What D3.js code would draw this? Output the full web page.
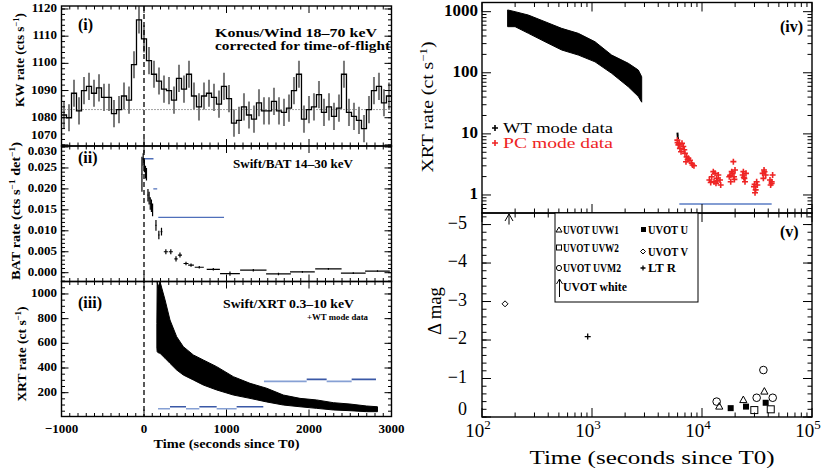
<!DOCTYPE html>
<html>
<head>
<meta charset="utf-8">
<script src="https://cdn.jsdelivr.net/npm/d3@7"></script>
<style>
  body { margin: 0; background: #fff; }
  svg { display: block; }
  text { font-family: "Liberation Serif", "DejaVu Serif", serif; fill: #000; }
</style>
</head>
<body>
<svg id="chart" width="829" height="471"></svg>
<script>
// ---- values ----

// (i) Konus/Wind light curve, fixed-width bins
const kwStart = -1000;
const kwBinWidth = 60.6;
const kwRate = [
  1081, 1080, 1089, 1082.5, 1090, 1091.5, 1089, 1091, 1087.5, 1087.5,
  1081.5, 1083, 1088, 1086.5, 1099.5, 1116, 1109, 1101, 1096, 1093.5,
  1090.5, 1090, 1086.5, 1094.5, 1090.5, 1096, 1088, 1084, 1088, 1089,
  1087.5, 1085, 1091.5, 1087, 1078, 1079, 1084, 1081, 1079.5, 1085.5,
  1082.5, 1082.5, 1086, 1082.5, 1082, 1083.5, 1090, 1096, 1079.5, 1083,
  1084, 1088.5, 1082, 1084, 1080.5, 1083.5, 1096, 1082, 1080.5, 1079,
  1076, 1083, 1090, 1091.5, 1085.5, 1088
];
const kwErr = 5;
const kwBackground = 1083;

// (ii) Swift/BAT
const batTime    = [-25, -10, 5, 18, 30, 48, 62, 76, 90, 104, 145, 180, 212, 265, 325, 388, 436, 509, 570, 670, 840, 1042, 1325, 1630, 1920, 2235, 2537, 2830];
const batTimeErr = [4, 5, 5, 5, 5, 5, 5, 5, 5, 5, 6, 8, 10, 25, 25, 20, 25, 30, 35, 55, 80, 120, 160, 150, 150, 160, 150, 150];
const batRate    = [0.0235, 0.027, 0.0255, 0.024, 0.0235, 0.0185, 0.0178, 0.0165, 0.016, 0.015, 0.0113, 0.009, 0.0098, 0.005, 0.005, 0.0033, 0.0042, 0.0022, 0.0018, 0.0013, 0.0008, -0.0002, 0.0006, -0.0003, 0.0002, 0.0009, -0.0001, 0.0004];
const batRateErr = [0.0042, 0.0015, 0.0015, 0.0015, 0.0015, 0.0015, 0.0015, 0.0015, 0.0015, 0.0015, 0.0013, 0.001, 0.0009, 0.0006, 0.0006, 0.0006, 0.0006, 0.0004, 0.0004, 0.0003, 0.0003, 0.0005, 0.0003, 0.0003, 0.0002, 0.0002, 0.0002, 0.0002];
const batBarStart = [-20, 113, 173];
const batBarEnd   = [115, 160, 970];
const batBarLevel = [0.0272, 0.02, 0.0132];

// (iii) Swift/XRT WT, linear: band envelope
const xrtTime = [156, 160, 168, 194, 255, 315, 396, 477, 598, 719, 881, 1083, 1285, 1487, 1689, 1891, 2093, 2295, 2497, 2699, 2830];
const xrtHigh = [760, 1100, 1050, 1100, 952, 789, 654, 573, 506, 465, 411, 330, 276, 236, 181, 154, 141, 119, 108, 92, 86];
const xrtLow  = [560, 532, 525, 519, 479, 438, 384, 343, 303, 262, 222, 181, 154, 125, 100, 86, 73, 60, 54, 46, 46];
const xrtBarStart = [170, 315, 509, 671, 881, 1123, 1454, 1972, 2214, 2517];
const xrtBarEnd   = [315, 509, 671, 881, 1123, 1446, 1972, 2214, 2517, 2812];
const xrtBarLevel = [70, 86, 70, 86, 70, 86, 292, 308, 292, 308];

// (iv) XRT, log-log
const wtTime = [171, 200, 264, 374, 530, 751, 1065, 1509, 2138, 2636, 2830];
const wtHigh = [1067, 1000, 880, 686, 533, 442, 322, 195, 143, 111, 86];
const wtLow  = [568, 568, 442, 322, 236, 195, 151, 98, 59, 41, 33];
const wtLateTime = [5980, 6020, 6060];
const wtLateRate = [10.5, 9, 8.2];
const pcTime = [
  5970, 6100, 6300, 6580, 6450, 6760, 7000, 7250, 7150, 7520, 7770, 8050, 8450, 6000, 6200, 6900, 7400, 8200,
  11670, 12250, 12670, 12860, 13130, 13400, 13590, 14070, 14580, 14790, 12000, 13800,
  17700, 18620, 19280, 19010, 18240, 19540, 19950, 18000, 19700,
  23440, 24270, 25120, 24600, 23770, 24000,
  29700, 30760, 31400, 30340, 31850, 30100,
  35600, 36640, 37930, 36140, 37000,
  41500, 42960, 43850, 42070, 43000
];
const pcRate = [
  7.9, 6.6, 5.8, 7.0, 5.1, 6.2, 4.8, 4.2, 3.5, 4.0, 3.7, 3.3, 3.0, 7.2, 6.9, 5.5, 3.8, 3.1,
  1.76, 1.99, 2.41, 1.65, 2.26, 1.55, 1.87, 2.12, 1.76, 1.46, 1.6, 1.7,
  1.99, 2.41, 3.51, 2.26, 1.65, 1.99, 2.56, 2.1, 1.8,
  2.12, 1.87, 2.26, 1.65, 2.41, 1.95,
  1.37, 1.21, 1.65, 1.09, 1.46, 1.5,
  2.26, 2.56, 2.12, 1.87, 2.4,
  1.76, 1.55, 2.12, 1.46, 1.65
];
const pcBarStart = [6220];
const pcBarEnd   = [43000];
const pcBarLevel = [0.71];

// (v) UVOT / LT magnitude changes
const uvw1Time = [14350, 23750, 36900],        uvw1Mag = [-0.27, -0.44, -0.66];
const uvw2Time = [29900, 42170],               uvw2Mag = [-0.18, -0.2];
const uvm2Time = [13590, 31400, 36150, 43950], uvm2Mag = [-0.4, -0.5, -1.22, -0.5];
const uTime    = [18230, 25120, 37930],        uMag    = [-0.23, -0.27, -0.37];
const vTime    = [162],                        vMag    = [-2.94];
const ltRTime  = [914],                        ltRMag  = [-2.09];
const whiteTime = [176],                       whiteMag = [-5.0];

// tick values
const leftXTicks = [-1000, 0, 1000, 2000, 3000];
const kwTicks = [1070, 1080, 1090, 1100, 1110, 1120];
const batTicks = [0, 0.005, 0.01, 0.015, 0.02, 0.025, 0.03];
const xrtTicks = [200, 400, 600, 800, 1000];
const rightXTicks = [100, 1000, 10000, 100000];
const wtTicks = [1, 10, 100, 1000];
const magTicks = [0, -1, -2, -3, -4, -5];

// ---- scales ----
const xL = d3.scaleLinear([-1000, 3000], [61.5, 391.5]);
const yKW = d3.scaleLinear([1069.6, 1121.1], [146, 6]);
const yBAT = d3.scaleLinear([-0.0021, 0.03024], [281.5, 146]);
const yXRT = d3.scaleLinear([7, 1101], [416.5, 281.5]);

const xR = d3.scaleLog([100, 1e5], [482, 812]);
const yWT = d3.scaleLog([0.507, 1413], [213, 2.5]);
const yMag = d3.scaleLinear([0, -5.3], [417, 213]);

const svg = d3.select('#chart');
const blueLight = '#86a0d4', blueDark = '#3a58a6';

function range(a, b, s) {
  const out = [];
  for (let v = a; v <= b + s * 1e-6; v += s) out.push(+v.toFixed(6));
  return out;
}
function logMinor(lo, hi) {
  const out = [];
  for (let e = Math.floor(Math.log10(lo)); e <= Math.ceil(Math.log10(hi)); e++)
    for (let k = 2; k < 10; k++) {
      const v = k * Math.pow(10, e);
      if (v > lo && v < hi) out.push(v);
    }
  return out;
}

// frame with inward ticks on all four sides
function frame(g, x, y, xMaj, xMin, yMaj, yMin, M, m) {
  const [xa, xb] = x.range();
  const [ya, yb] = y.range();
  const seg = [];
  const inX = v => v >= Math.min(...x.domain()) && v <= Math.max(...x.domain());
  const inY = v => v >= Math.min(...y.domain()) && v <= Math.max(...y.domain());
  xMaj.filter(inX).forEach(v => seg.push([x(v), ya, x(v), ya - M], [x(v), yb, x(v), yb + M]));
  xMin.filter(inX).forEach(v => seg.push([x(v), ya, x(v), ya - m], [x(v), yb, x(v), yb + m]));
  yMaj.filter(inY).forEach(v => seg.push([xa, y(v), xa + M, y(v)], [xb, y(v), xb - M, y(v)]));
  yMin.filter(inY).forEach(v => seg.push([xa, y(v), xa + m, y(v)], [xb, y(v), xb - m, y(v)]));
  g.append('g').selectAll('line').data(seg).join('line')
    .attr('x1', d => d[0]).attr('y1', d => d[1])
    .attr('x2', d => d[2]).attr('y2', d => d[3])
    .attr('stroke', '#000').attr('stroke-width', 1);
  g.append('rect')
    .attr('x', xa).attr('y', yb)
    .attr('width', xb - xa).attr('height', ya - yb)
    .attr('fill', 'none').attr('stroke', '#000').attr('stroke-width', 1.4);
}

function label(g, x, y, str, size, opts = {}) {
  const t = g.append('text')
    .attr('x', x).attr('y', y)
    .attr('font-size', size)
    .attr('font-weight', opts.bold ? 'bold' : 'normal')
    .attr('text-anchor', opts.anchor || 'start')
    .attr('dominant-baseline', opts.baseline || 'auto');
  if (opts.fill) t.style('fill', opts.fill);
  if (opts.len) t.attr('textLength', opts.len).attr('lengthAdjust', 'spacingAndGlyphs');
  t.text(str);
  return t;
}

// rotated axis title with superscripts: parts = [[text, isSup], ...]
function yTitle(g, x, y, parts, size, bold, len) {
  const t = g.append('text')
    .attr('transform', `translate(${x},${y}) rotate(-90)`)
    .attr('text-anchor', 'middle')
    .attr('font-size', size)
    .attr('font-weight', bold ? 'bold' : 'normal');
  let up = false;
  parts.forEach(([s, sup]) => {
    const ts = t.append('tspan').text(s);
    if (sup && !up) { ts.attr('dy', -size * 0.38).attr('font-size', size * 0.65); up = true; }
    else if (sup) ts.attr('font-size', size * 0.65);
    else if (up) { ts.attr('dy', size * 0.38); up = false; }
  });
  if (len) t.attr('textLength', len).attr('lengthAdjust', 'spacingAndGlyphs');
}

function clip(id, x, y) {
  const [xa, xb] = x.range(), [ya, yb] = y.range();
  svg.append('clipPath').attr('id', id).append('rect')
    .attr('x', xa).attr('y', yb).attr('width', xb - xa).attr('height', ya - yb);
}

// ================= left column =================
const left = svg.append('g');
clip('cKW', xL, yKW); clip('cBAT', xL, yBAT); clip('cXRT', xL, yXRT);
const xMinorL = range(-1000, 3000, 100).filter(v => v % 1000 !== 0);

// (i) Konus/Wind
const gKW = left.append('g').attr('clip-path', 'url(#cKW)');
gKW.append('line')
  .attr('x1', xL(-1000)).attr('x2', xL(3000))
  .attr('y1', yKW(kwBackground)).attr('y2', yKW(kwBackground))
  .attr('stroke', '#444').attr('stroke-dasharray', '1,2');
gKW.selectAll('line.err').data(kwRate).join('line').attr('class', 'err')
  .attr('x1', (d, i) => xL(kwStart + (i + 0.5) * kwBinWidth))
  .attr('x2', (d, i) => xL(kwStart + (i + 0.5) * kwBinWidth))
  .attr('y1', d => yKW(d - kwErr)).attr('y2', d => yKW(d + kwErr))
  .attr('stroke', '#7a7a7a').attr('stroke-width', 2);
const kwSteps = kwRate.map((v, i) => [kwStart + i * kwBinWidth, v]);
kwSteps.push([kwStart + kwRate.length * kwBinWidth, kwRate[kwRate.length - 1]]);
gKW.append('path')
  .attr('d', d3.line().x(d => xL(d[0])).y(d => yKW(d[1])).curve(d3.curveStepAfter)(kwSteps))
  .attr('fill', 'none').attr('stroke', '#000').attr('stroke-width', 1.3);
frame(left, xL, yKW, leftXTicks, xMinorL, kwTicks, range(1070, 1120, 2), 7, 3.5);

// (ii) BAT
const gBAT = left.append('g').attr('clip-path', 'url(#cBAT)');
gBAT.selectAll('line.bar').data(batBarLevel).join('line').attr('class', 'bar')
  .attr('x1', (d, i) => xL(batBarStart[i])).attr('x2', (d, i) => xL(batBarEnd[i]))
  .attr('y1', d => yBAT(d)).attr('y2', d => yBAT(d))
  .attr('stroke', '#4f6fba').attr('stroke-width', 1.4);
const batG = gBAT.selectAll('g.pt').data(batRate).join('g').attr('class', 'pt');
batG.append('line')
  .attr('x1', (d, i) => xL(batTime[i])).attr('x2', (d, i) => xL(batTime[i]))
  .attr('y1', (d, i) => yBAT(d - batRateErr[i])).attr('y2', (d, i) => yBAT(d + batRateErr[i]))
  .attr('stroke', '#000').attr('stroke-width', 1.2);
batG.append('line')
  .attr('x1', (d, i) => xL(batTime[i] - batTimeErr[i])).attr('x2', (d, i) => xL(batTime[i] + batTimeErr[i]))
  .attr('y1', d => yBAT(d)).attr('y2', d => yBAT(d))
  .attr('stroke', '#000').attr('stroke-width', 1.2);
frame(left, xL, yBAT, leftXTicks, xMinorL, batTicks, range(-0.002, 0.03, 0.001), 7, 3.5);

// (iii) XRT linear
const gXRT = left.append('g').attr('clip-path', 'url(#cXRT)');
gXRT.append('path')
  .attr('d', d3.area().x((d, i) => xL(d)).y0((d, i) => yXRT(xrtLow[i])).y1((d, i) => yXRT(xrtHigh[i]))(xrtTime))
  .attr('fill', '#000').attr('stroke', '#000').attr('stroke-width', 1);
gXRT.selectAll('line.bar').data(xrtBarLevel).join('line').attr('class', 'bar')
  .attr('x1', (d, i) => xL(xrtBarStart[i])).attr('x2', (d, i) => xL(xrtBarEnd[i]))
  .attr('y1', d => yXRT(d)).attr('y2', d => yXRT(d))
  .attr('stroke', (d, i) => (i % 2 ? blueDark : blueLight)).attr('stroke-width', 1.6);
frame(left, xL, yXRT, leftXTicks, xMinorL, xrtTicks, range(50, 1100, 50), 7, 3.5);

// T0 dashed marker across the three panels
left.append('line')
  .attr('x1', xL(0)).attr('x2', xL(0))
  .attr('y1', yKW.range()[1]).attr('y2', yXRT.range()[0])
  .attr('stroke', '#000').attr('stroke-width', 1.3).attr('stroke-dasharray', '5,3');

// left tick labels (the two at the panel seam are nudged apart, as in the figure)
kwTicks.forEach(v => label(left, 57, Math.min(yKW(v), 136), v, 13, { bold: true, anchor: 'end', baseline: 'middle' }));
batTicks.forEach(v => label(left, 57, Math.max(yBAT(v), 152.5), v.toFixed(3), 13, { bold: true, anchor: 'end', baseline: 'middle' }));
xrtTicks.forEach(v => label(left, 57, yXRT(v), v, 13, { bold: true, anchor: 'end', baseline: 'middle' }));
leftXTicks.forEach(v => label(left, xL(v), 433, String(v).replace('-', '\u2212'), 13, { bold: true, anchor: 'middle' }));
label(left, xL(1000), 448, 'Time (seconds since T0)', 13, { bold: true, anchor: 'middle', len: 146 });

yTitle(left, 24, 60, [['KW rate (cts s'], ['\u22121', true], [')']], 12.5, true, 94);
yTitle(left, 20, 211, [['BAT rate (cts s'], ['\u22121', true], [' det'], ['\u22121', true], [')']], 12.5, true, 138);
yTitle(left, 26, 354, [['XRT rate (ct s'], ['\u22121', true], [')']], 12.5, true, 95);

label(left, 78, 30, '(i)', 16, { bold: true });
label(left, 215, 37, 'Konus/Wind 18\u201370 keV', 12.5, { bold: true, len: 162 });
label(left, 215, 50, 'corrected for time-of-flight', 12.5, { bold: true, len: 175 });
label(left, 78, 163, '(ii)', 16, { bold: true });
label(left, 233, 168, 'Swift/BAT 14\u201330 keV', 12.5, { bold: true, len: 120 });
label(left, 78, 308, '(iii)', 16, { bold: true });
label(left, 223, 308, 'Swift/XRT 0.3\u201310 keV', 12.5, { bold: true, len: 131 });
label(left, 307, 320, '+WT mode data', 8, { bold: true, len: 61 });

// ================= right column =================
const right = svg.append('g');
clip('cWT', xR, yWT); clip('cMag', xR, yMag);
const xMinorR = logMinor(100, 1e5);

// (iv) XRT log-log
const gWT = right.append('g').attr('clip-path', 'url(#cWT)');
gWT.append('path')
  .attr('d', d3.area().x(d => xR(d)).y0((d, i) => yWT(wtLow[i])).y1((d, i) => yWT(wtHigh[i]))(wtTime))
  .attr('fill', '#000').attr('stroke', '#000').attr('stroke-width', 1);
gWT.selectAll('line.bar').data(pcBarLevel).join('line').attr('class', 'bar')
  .attr('x1', (d, i) => xR(pcBarStart[i])).attr('x2', (d, i) => xR(pcBarEnd[i]))
  .attr('y1', d => yWT(d)).attr('y2', d => yWT(d))
  .attr('stroke', '#5a7cc4').attr('stroke-width', 1.5);
gWT.append('path')
  .attr('d', d3.line().x(d => xR(d)).y((d, i) => yWT(wtLateRate[i]))(wtLateTime))
  .attr('fill', 'none').attr('stroke', '#000').attr('stroke-width', 2);
const plus = (cx, cy, r) => `M${cx - r},${cy}h${2 * r}M${cx},${cy - r}v${2 * r}`;
gWT.selectAll('path.pc').data(pcRate).join('path').attr('class', 'pc')
  .attr('d', (d, i) => plus(xR(pcTime[i]), yWT(d), 3))
  .attr('stroke', '#ee2424').attr('stroke-width', 1.6);
frame(right, xR, yWT, rightXTicks, xMinorR, wtTicks, logMinor(0.5, 1413), 9, 4.5);

wtTicks.forEach(v => label(right, 478, yWT(v), v, 17, { bold: true, anchor: 'end', baseline: 'middle' }));
yTitle(right, 433, 107, [['XRT rate (ct s'], ['\u22121', true], [')']], 17, false, 131);
label(right, 780, 32, '(iv)', 16, { bold: true });
right.append('path').attr('d', plus(495, 128, 3)).attr('stroke', '#000').attr('stroke-width', 1.6);
label(right, 503, 133, 'WT mode data', 14.5, { len: 110 });
right.append('path').attr('d', plus(495, 143, 3)).attr('stroke', '#ee2424').attr('stroke-width', 1.6);
label(right, 503, 148, 'PC mode data', 14.5, { len: 110, fill: '#ee2424' });

// (v) magnitudes
const gMag = right.append('g').attr('clip-path', 'url(#cMag)');
const sym = (tArr, mArr, fn) => tArr.forEach((t, i) => fn(gMag, xR(t), yMag(mArr[i])));
sym(uvw1Time, uvw1Mag, (g, x, y) => g.append('path')
  .attr('d', `M${x},${y - 4}L${x + 3.6},${y + 2.5}L${x - 3.6},${y + 2.5}Z`)
  .attr('fill', 'none').attr('stroke', '#000').attr('stroke-width', 1));
sym(uvw2Time, uvw2Mag, (g, x, y) => g.append('rect')
  .attr('x', x - 3.5).attr('y', y - 3.5).attr('width', 7).attr('height', 7)
  .attr('fill', 'none').attr('stroke', '#000').attr('stroke-width', 1));
sym(uvm2Time, uvm2Mag, (g, x, y) => g.append('circle')
  .attr('cx', x).attr('cy', y).attr('r', 3.8)
  .attr('fill', 'none').attr('stroke', '#000').attr('stroke-width', 1));
sym(uTime, uMag, (g, x, y) => g.append('rect')
  .attr('x', x - 3).attr('y', y - 3).attr('width', 6).attr('height', 6).attr('fill', '#000'));
sym(vTime, vMag, (g, x, y) => g.append('path')
  .attr('d', `M${x},${y - 3}L${x + 3},${y}L${x},${y + 3}L${x - 3},${y}Z`)
  .attr('fill', 'none').attr('stroke', '#000').attr('stroke-width', 1));
sym(ltRTime, ltRMag, (g, x, y) => g.append('path')
  .attr('d', plus(x, y, 3)).attr('stroke', '#000').attr('stroke-width', 1.3));
sym(whiteTime, whiteMag, (g, x, y) => g.append('path')
  .attr('d', `M${x},${y}V${yMag(-5.3) + 1}M${x - 4},${yMag(-5.3) + 8}L${x},${yMag(-5.3) + 1}L${x + 4},${yMag(-5.3) + 8}`)
  .attr('fill', 'none').attr('stroke', '#000').attr('stroke-width', 1));
frame(right, xR, yMag, rightXTicks, xMinorR, magTicks, range(-5.2, 0, 0.2), 9, 4.5);

magTicks.forEach(v => label(right, 467, Math.min(yMag(v), 411), String(v).replace('-', '\u2212'), 18, { anchor: 'end', baseline: 'middle' }));
rightXTicks.forEach(v => {
  const t = right.append('text').attr('x', xR(v) - 4).attr('y', 437)
    .attr('text-anchor', 'middle').attr('font-size', 19);
  t.append('tspan').text('10');
  t.append('tspan').attr('dy', -8).attr('font-size', 13).text(Math.round(Math.log10(v)));
});
label(right, 652, 464, 'Time (seconds since T0)', 19, { anchor: 'middle', len: 245 });
yTitle(right, 441, 311, [['\u0394 mag']], 19, false, 48);
label(right, 780, 237, '(v)', 16, { bold: true });

// legend of (v)
const leg = right.append('g');
leg.append('rect').attr('x', 555).attr('y', 213).attr('width', 143).attr('height', 89)
  .attr('fill', '#fff').attr('stroke', '#000').attr('stroke-width', 1);
leg.append('path').attr('d', 'M559,227L562,232L556,232Z').attr('fill', 'none').attr('stroke', '#000');
label(leg, 563, 234, 'UVOT UVW1', 12, { bold: true, len: 56 });
leg.append('rect').attr('x', 641).attr('y', 227).attr('width', 5).attr('height', 5).attr('fill', '#000');
label(leg, 648, 234, 'UVOT U', 12, { bold: true, len: 40 });
leg.append('rect').attr('x', 556.5).attr('y', 245).attr('width', 5).attr('height', 5).attr('fill', 'none').attr('stroke', '#000');
label(leg, 563, 252, 'UVOT UVW2', 12, { bold: true, len: 56 });
leg.append('path').attr('d', 'M643,249L645.5,251.5L643,254L640.5,251.5Z').attr('fill', 'none').attr('stroke', '#000');
label(leg, 648, 256, 'UVOT V', 12, { bold: true, len: 40 });
leg.append('circle').attr('cx', 559).attr('cy', 268).attr('r', 2.6).attr('fill', 'none').attr('stroke', '#000');
label(leg, 563, 272, 'UVOT UVM2', 12, { bold: true, len: 58 });
leg.append('path').attr('d', plus(643, 268, 2.5)).attr('stroke', '#000').attr('stroke-width', 1.3);
label(leg, 648, 272, 'LT R', 12, { bold: true, len: 28 });
leg.append('path').attr('d', 'M559.5,297V279M556.5,284L559.5,279L562.5,284').attr('fill', 'none').attr('stroke', '#000');
label(leg, 563, 291, 'UVOT white', 12, { bold: true, len: 64 });
</script>
</body>
</html>
